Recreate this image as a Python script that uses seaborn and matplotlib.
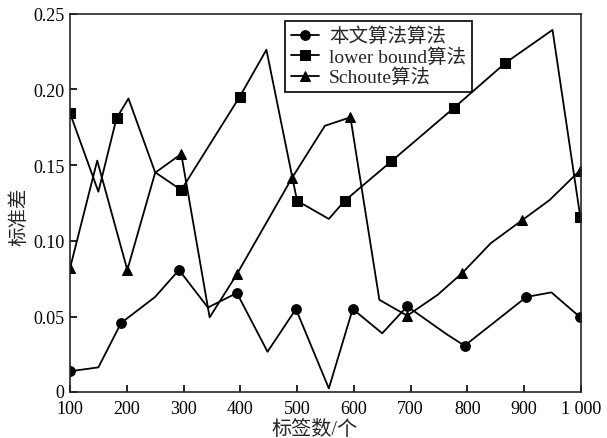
import matplotlib
matplotlib.use("Agg")
import matplotlib.pyplot as plt
import matplotlib.transforms as mtransforms
import seaborn as sns
import pandas as pd

# ---- data ----
ours_x = [100, 150, 190, 250, 292, 343, 394, 448, 498, 556, 598, 650, 694, 763, 795, 850, 904, 948, 999]
ours_y = [0.0139, 0.0165, 0.0458, 0.063, 0.0808, 0.056, 0.0656, 0.0268, 0.055, 0.0026, 0.055,
          0.039, 0.0568, 0.0385, 0.0308, 0.047, 0.063, 0.066, 0.0495]
ours_marks = [0, 2, 4, 6, 8, 10, 12, 14, 16, 18]

lb_x = [100, 150, 182, 203, 250, 296, 399, 446, 500, 556, 584, 666, 776, 867, 950, 999]
lb_y = [0.1844, 0.1325, 0.181, 0.194, 0.1453, 0.1336, 0.1952, 0.2262, 0.1265, 0.1145, 0.1265,
        0.1525, 0.1877, 0.2175, 0.2393, 0.1156]
lb_marks = [0, 2, 5, 6, 8, 10, 11, 12, 13, 15]

sch_x = [100, 148, 201, 250, 296, 346, 394, 491, 549, 594, 645, 694, 748, 791, 841, 897, 945, 998]
sch_y = [0.0819, 0.153, 0.0808, 0.145, 0.1574, 0.0495, 0.078, 0.1415, 0.176, 0.1816, 0.0611,
         0.0506, 0.0645, 0.0788, 0.0984, 0.1138, 0.127, 0.1464]
sch_marks = [0, 2, 4, 6, 7, 9, 11, 13, 15, 17]

labels = ["本文算法算法", "lower bound算法", "Schoute算法"]
xticks = [100, 200, 300, 400, 500, 600, 700, 800, 900, 1000]
xticklabels = ["100", "200", "300", "400", "500", "600", "700", "800", "900", "1 000"]
yticks = [0, 0.05, 0.10, 0.15, 0.20, 0.25]
yticklabels = ["0", "0.05", "0.10", "0.15", "0.20", "0.25"]

sns.set_style("ticks")
plt.rcParams["font.family"] = ["Liberation Serif", "Noto Sans CJK SC"]
plt.rcParams["axes.linewidth"] = 1.2

fig = plt.figure(figsize=(6.07, 4.39), dpi=100)
ax = fig.add_axes([0.1153, 0.104, 0.957 - 0.1153, 0.9665 - 0.104])

series = [
    (ours_x, ours_y, ours_marks, "o", labels[0], 7),
    (lb_x, lb_y, lb_marks, "s", labels[1], 6.5),
    (sch_x, sch_y, sch_marks, "^", labels[2], 7),
]
for xs, ys, mk, m, lab, ms in series:
    df = pd.DataFrame({"x": xs, "y": ys})
    sns.lineplot(data=df, x="x", y="y", ax=ax, color="black", linewidth=1.3,
                 marker=m, markersize=ms, markevery=mk, sort=False,
                 estimator=None, label=lab, markeredgecolor="black")

ax.set_xlim(100, 1000)
ax.set_ylim(0, 0.25)
ax.set_xticks(xticks)
ax.set_xticklabels(xticklabels)
ax.set_yticks(yticks)
ax.set_yticklabels(yticklabels)
ax.tick_params(direction="in", length=5, width=1.2, labelsize=13, colors="black")
ax.tick_params(axis="x", pad=5.5)
ax.tick_params(axis="y", pad=4)
ax.set_xlabel("标签数/个", fontsize=14.5)
ax.set_ylabel("标准差", fontsize=14)
ax.xaxis.set_label_coords(0.479, -0.074)
ax.yaxis.set_label_coords(-0.082, 0.466)

# lift the "0" label a little so it sits just above the "100" label
zero_lbl = ax.get_yticklabels()[0]
zero_lbl.set_verticalalignment("bottom")
zero_lbl.set_transform(zero_lbl.get_transform() +
                       mtransforms.ScaledTranslation(0, -6 / 72, fig.dpi_scale_trans))

leg = ax.legend(loc="upper left", bbox_to_anchor=(0.421, 0.981), frameon=True, fancybox=False,
                edgecolor="black", fontsize=14, handlelength=1.45, borderpad=0.3,
                labelspacing=0.1, handletextpad=0.5, borderaxespad=0)
leg.get_frame().set_linewidth(1.2)
leg.get_frame().set_alpha(1)

fig.savefig("out.png", dpi=100)
